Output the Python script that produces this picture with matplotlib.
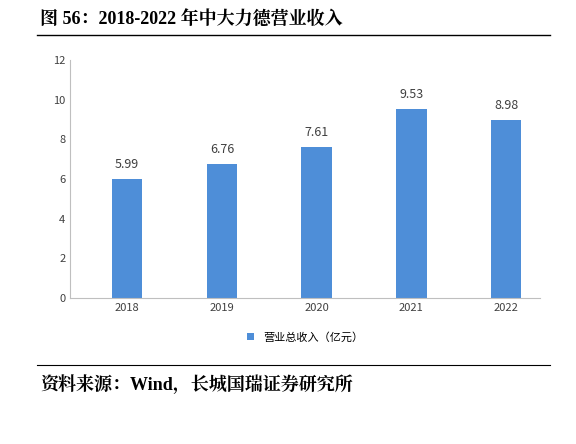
import matplotlib
matplotlib.use("Agg")
import matplotlib.pyplot as plt
from matplotlib.lines import Line2D

plt.rcParams["font.family"] = ["Noto Sans CJK SC", "DejaVu Sans"]

years = ["2018", "2019", "2020", "2021", "2022"]
revenue = [5.99, 6.76, 7.61, 9.53, 8.98]

fig = plt.figure(figsize=(5.76, 4.44), dpi=100)
ax = fig.add_axes([0.122, 0.329, 0.816, 0.536])

bars = ax.bar(years, revenue, width=0.32, color="#4E8ED8", label="营业总收入（亿元）")
for b, v in zip(bars, revenue):
    ax.text(b.get_x() + b.get_width() / 2, v + 0.4, f"{v:.2f}",
            ha="center", va="bottom", fontsize=9, color="#404040")

ax.set_xlim(-0.6, 4.36)
ax.set_ylim(0, 12)
ax.set_yticks(range(0, 13, 2))
ax.tick_params(axis="both", labelsize=8, colors="#404040", length=0)
for s in ["top", "right"]:
    ax.spines[s].set_visible(False)
for s in ["left", "bottom"]:
    ax.spines[s].set_color("#BFBFBF")

ax.legend(loc="upper center", bbox_to_anchor=(0.5, -0.1), frameon=False,
          fontsize=8, handlelength=0.6, handleheight=0.6)

fig.text(0.07, 0.955, "图 56：2018-2022 年中大力德营业收入", fontsize=13,
         fontweight="bold", va="center",
         family=["Liberation Serif", "Noto Serif CJK SC", "Noto Sans CJK SC"])
fig.add_artist(Line2D([0.065, 0.955], [0.921, 0.921], color="black", lw=1))
fig.add_artist(Line2D([0.065, 0.955], [0.178, 0.178], color="black", lw=0.8))
fig.text(0.07, 0.135, "资料来源：Wind，长城国瑞证券研究所", fontsize=13,
         fontweight="bold", va="center",
         family=["Liberation Serif", "Noto Serif CJK SC", "Noto Sans CJK SC"])

fig.savefig("out.png", dpi=100)
